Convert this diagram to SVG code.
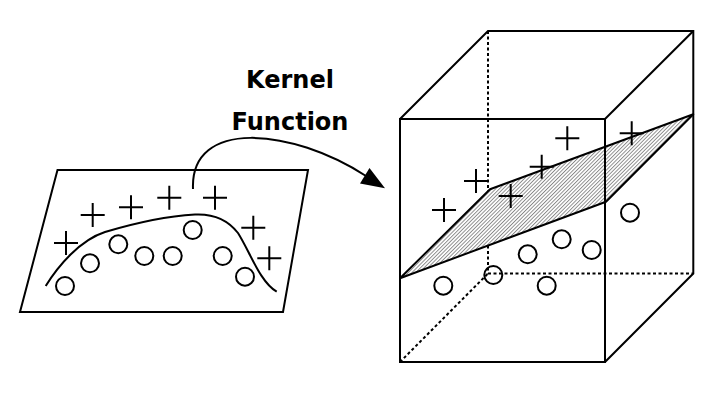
<svg xmlns="http://www.w3.org/2000/svg" width="716" height="402" viewBox="0 0 716 402">
  <style>
    .ln { fill: none; stroke: #000; stroke-width: 2; stroke-linejoin: miter; }
    .ds { fill: none; stroke: #000; stroke-width: 2; stroke-dasharray: 3 2.5; }
    .pt { fill: none; stroke: #000; stroke-width: 2; }
    .lbl { font-family: "DejaVu Sans", "Liberation Sans", sans-serif; font-weight: bold; font-size: 24px; fill: #000; text-anchor: middle; }
  </style>
  <defs>
    <pattern id="hatch" patternUnits="userSpaceOnUse" width="2.6" height="10" patternTransform="rotate(45)">
      <rect width="2.6" height="10" fill="#fff"/>
      <line x1="0.5" y1="0" x2="0.5" y2="10" stroke="#555" stroke-width="0.7"/>
    </pattern>
    <path id="plus" d="M-12,0 H12 M0,-12 V12" class="pt"/>
  </defs>
  <rect width="716" height="402" fill="#fff"/>

  <g id="input-space">
    <polygon class="ln" points="57.5,170 308,170 283,312 20,312"/>
    <path class="ln" d="M45.7,286 C58,266 80,240 105,232 C135,223 170,216 195,214.5 C215,213.5 228,220 238,233 C250,252 260,282 276.7,291.7"/>
    <g>
      <use href="#plus" x="66" y="243"/>
      <use href="#plus" x="92.7" y="215"/>
      <use href="#plus" x="131" y="207.3"/>
      <use href="#plus" x="169.3" y="197.7"/>
      <use href="#plus" x="215" y="197.7"/>
      <use href="#plus" x="253.3" y="227.7"/>
      <use href="#plus" x="269.3" y="258.3"/>
    </g>
    <g class="pt">
      <circle cx="65" cy="286" r="9"/>
      <circle cx="90" cy="263.3" r="9"/>
      <circle cx="118.3" cy="244.3" r="9"/>
      <circle cx="144.3" cy="256" r="9"/>
      <circle cx="172.7" cy="256" r="9"/>
      <circle cx="192.7" cy="230" r="9"/>
      <circle cx="222.7" cy="256" r="9"/>
      <circle cx="245" cy="276.7" r="9"/>
    </g>
  </g>

  <g id="label">
    <text class="lbl" x="290" y="88">Kernel</text>
    <text class="lbl" x="290" y="130">Function</text>
  </g>

  <g id="feature-space">
    <g id="cube-hidden">
      <line class="ds" x1="488" y1="31" x2="488" y2="273.5"/>
      <line class="ds" x1="488" y1="273.5" x2="693.3" y2="273.5"/>
      <line class="ds" x1="400" y1="362" x2="488" y2="273.5"/>
    </g>
    <g id="cube-back">
      <polyline class="ln" points="400,119 488,31 693.3,31 693.3,273.5 605,362"/>
      <line class="ln" x1="605" y1="119" x2="693.3" y2="31"/>
    </g>
    <g id="hyperplane">
      <polygon points="400,278.3 490,189.3 693.3,114.3 606,201.7" fill="url(#hatch)" stroke="#000" stroke-width="2" stroke-linejoin="round"/>
    </g>
    <g id="cube-front">
      <rect class="ln" x="400" y="119" width="205" height="243"/>
    </g>
    <g>
      <use href="#plus" x="444" y="210"/>
      <use href="#plus" x="476" y="181"/>
      <use href="#plus" x="510.7" y="196"/>
      <use href="#plus" x="541.7" y="166.7"/>
      <use href="#plus" x="567.3" y="138.3"/>
      <use href="#plus" x="631.7" y="133.3"/>
    </g>
    <g class="pt">
      <circle cx="630" cy="212.7" r="9"/>
      <circle cx="561.7" cy="239.3" r="9"/>
      <circle cx="591.7" cy="250" r="9"/>
      <circle cx="527.7" cy="254.3" r="9"/>
      <circle cx="493.3" cy="275" r="9"/>
      <circle cx="443.3" cy="285.7" r="9"/>
      <circle cx="546.7" cy="285.7" r="9"/>
    </g>
  </g>

  <g id="connectors">
    <path class="ln" d="M193,189 C190,118 292,128 366,176"/>
    <polygon points="385,188.3 360,183.5 369.5,168" fill="#000"/>
  </g>
</svg>
